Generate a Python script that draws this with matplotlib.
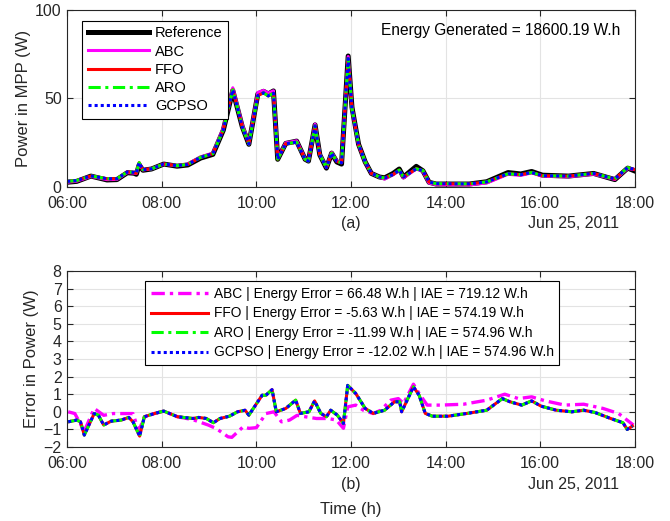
import matplotlib
matplotlib.use('Agg')
import matplotlib.pyplot as plt

plt.rcParams['font.family'] = ['Liberation Sans', 'DejaVu Sans']

# hours after midnight and their labels
xticks = [6, 8, 10, 12, 14, 16, 18]
xticklabels = ['06:00', '08:00', '10:00', '12:00', '14:00', '16:00', '18:00']

# ---- panel (a): power at MPP ----
t_pow = [6.0, 6.2, 6.5, 6.84, 7.05, 7.27, 7.42, 7.46, 7.52, 7.6, 7.78, 8.04, 8.32, 8.55,
         8.82, 9.08, 9.3, 9.5, 9.7, 9.84, 10.03, 10.15, 10.25, 10.36, 10.45, 10.62, 10.85,
         11.03, 11.1, 11.24, 11.34, 11.48, 11.59, 11.7, 11.8, 11.94, 12.02, 12.16, 12.3,
         12.43, 12.6, 12.71, 12.89, 13.02, 13.11, 13.38, 13.52, 13.65, 13.8, 14.5, 14.87,
         15.32, 15.59, 15.82, 16.05, 16.6, 17.13, 17.58, 17.85, 17.99]
p_ref = [2.5, 3.0, 6.0, 3.8, 4.0, 7.9, 7.6, 7.0, 12.3, 9.3, 10.0, 12.8, 11.6, 12.3,
         16.2, 18.3, 32.0, 54.5, 34.0, 24.0, 52.5, 54.0, 52.5, 54.2, 15.5, 24.5, 25.8,
         15.5, 14.5, 35.0, 18.0, 10.5, 19.0, 14.0, 12.8, 74.0, 45.0, 24.0, 14.0,
         7.5, 5.5, 5.0, 7.5, 10.0, 5.5, 11.5, 9.0, 2.5, 1.5, 1.5, 2.8,
         8.0, 7.2, 8.6, 6.5, 6.0, 7.5, 4.0, 10.5, 9.0]
p_abc = [2.5, 3.1, 5.8, 4.0, 4.1, 8.0, 7.7, 7.5, 13.0, 9.5, 10.1, 12.8, 11.8, 12.8,
         16.9, 19.0, 33.2, 56.0, 35.0, 24.9, 53.4, 54.5, 53.0, 54.3, 16.0, 24.8, 26.0,
         15.8, 14.8, 35.4, 18.4, 10.9, 19.4, 14.5, 13.7, 73.7, 44.7, 23.8, 13.9,
         7.5, 5.4, 4.3, 6.8, 9.2, 5.0, 10.0, 8.6, 2.1, 1.1, 1.0, 2.1,
         7.0, 6.4, 7.8, 5.9, 5.6, 7.1, 4.1, 10.3, 9.7]
p_trk = [3.0, 3.5, 6.1, 4.5, 4.5, 8.3, 8.1, 7.6, 13.6, 9.6, 10.1, 12.8, 11.9, 12.6,
         16.6, 18.7, 32.3, 54.8, 34.0, 24.1, 51.6, 53.1, 51.4, 52.9, 15.6, 24.3, 25.2,
         15.5, 14.5, 34.4, 18.1, 10.8, 19.0, 14.3, 13.5, 72.5, 44.0, 23.8, 14.0,
         7.6, 5.5, 4.9, 6.9, 9.4, 5.5, 10.1, 9.1, 2.7, 1.7, 1.6, 2.7,
         7.3, 6.8, 8.0, 6.2, 6.0, 7.5, 4.4, 10.8, 9.8]

# ---- panel (b): error in power ----
t_err = [6.02, 6.2, 6.28, 6.36, 6.57, 6.66, 6.77, 6.93, 7.14, 7.3, 7.39, 7.53, 7.63,
         7.84, 8.04, 8.33, 8.66, 8.78, 8.94, 9.09, 9.23, 9.43, 9.6, 9.76, 9.84, 10.12,
         10.2, 10.33, 10.42, 10.62, 10.83, 10.93, 11.11, 11.23, 11.36, 11.48, 11.57,
         11.71, 11.84, 11.93, 12.1, 12.3, 12.47, 12.59, 12.71, 12.92, 13.03, 13.07,
         13.32, 13.44, 13.57, 13.72, 14.05, 14.46, 14.87, 15.2, 15.36, 15.61, 15.82,
         16.02, 16.34, 16.67, 16.92, 17.16, 17.49, 17.75, 17.84, 17.95]
err_trk = [-0.57, -0.47, -0.57, -1.32, -0.1, -0.2, -0.75, -0.53, -0.47, -0.32, -0.57,
           -1.38, -0.28, -0.1, 0.04, -0.28, -0.38, -0.32, -0.38, -0.62, -0.38, -0.25,
           0.0, 0.09, -0.19, 0.94, 0.94, 1.26, 0.0, 0.19, 0.66, -0.09, 0.0, 0.62, -0.09,
           -0.28, 0.09, -0.19, -0.66, 1.5, 1.04, 0.19, -0.09, 0.0, 0.09, 0.57, 0.57, 0.0,
           1.42, 0.94, -0.09, -0.25, -0.25, -0.09, 0.09, 0.75, 0.57, 0.38, 0.62, 0.32,
           0.09, 0.0, 0.09, -0.04, -0.38, -0.62, -1.0, -0.81]

t_abc = [6.02, 6.16, 6.36, 6.57, 6.77, 6.97, 7.26, 7.39, 7.51, 7.63, 7.84, 8.04, 8.33,
         8.66, 8.98, 9.15, 9.4, 9.48, 9.72, 9.84, 10.0, 10.2, 10.37, 10.53, 10.7, 10.86,
         11.03, 11.27, 11.52, 11.69, 11.84, 11.93, 12.1, 12.26, 12.47, 12.63, 12.84,
         13.0, 13.11, 13.32, 13.44, 13.61, 13.89, 14.38, 14.87, 15.25, 15.54, 15.82,
         16.11, 16.52, 16.92, 17.33, 17.66, 17.97]
err_abc = [0.0, -0.1, -1.1, 0.19, -0.2, -0.1, -0.1, -0.1, -1.1, -0.3, -0.1, 0.04, -0.28,
           -0.45, -0.75, -0.95, -1.42, -1.45, -0.85, -0.94, -0.9, -0.1, 0.0, -0.57, -0.47,
           -0.2, -0.28, -0.38, -0.38, -0.47, -0.94, 0.28, 0.38, 0.09, -0.1, 0.09, 0.66,
           0.75, 0.47, 1.57, 1.04, 0.38, 0.38, 0.43, 0.66, 1.0, 0.75, 0.85, 0.62, 0.38,
           0.43, 0.19, -0.1, -0.75]

energy_text = 'Energy Generated = 18600.19 W.h'
labels_b = ['ABC | Energy Error = 66.48 W.h | IAE = 719.12 W.h',
            'FFO | Energy Error = -5.63 W.h | IAE = 574.19 W.h',
            'ARO | Energy Error = -11.99 W.h | IAE = 574.96 W.h',
            'GCPSO | Energy Error = -12.02 W.h | IAE = 574.96 W.h']

MAG = '#ff00ff'
RED = '#ff0000'
GRN = '#00ff00'
BLU = '#0000ff'
INK = '#262626'
DASHDOT = (0, (4, 1.5, 1, 1.5))

fig = plt.figure(figsize=(6.7, 5.21), dpi=100)
ax1 = fig.add_axes([0.1004, 0.6417, 0.847, 0.339])
ax2 = fig.add_axes([0.1004, 0.142, 0.847, 0.338])


def style_axes(ax):
    ax.set_xlim(6, 18)
    ax.set_xticks(xticks)
    ax.set_xticklabels(xticklabels)
    ax.grid(True, color='#e3e3e3', lw=0.8)
    ax.set_axisbelow(True)
    ax.tick_params(direction='in', top=True, right=True, length=4,
                   labelsize=11.5, colors=INK, width=0.8)
    ax.tick_params(axis='x', pad=6.5)
    ax.tick_params(axis='y', pad=4)
    for s in ax.spines.values():
        s.set_color(INK)
        s.set_linewidth(0.8)


def matlab_legend(ax, x0, fs, spacing):
    leg = ax.legend(loc='upper left', bbox_to_anchor=(x0, 0.94), borderaxespad=0,
                    fontsize=fs, handlelength=4.2, handletextpad=0.4, labelspacing=spacing,
                    fancybox=False, framealpha=1, edgecolor='black', borderpad=0.4)
    leg.get_frame().set_linewidth(0.8)
    return leg


# panel (a)
ax1.plot(t_pow, p_ref, color='black', lw=3.6, label='Reference')
ax1.plot(t_pow, p_abc, color=MAG, lw=2.2, label='ABC')
ax1.plot(t_pow, p_trk, color=RED, lw=2.2, label='FFO')
ax1.plot(t_pow, p_trk, color=GRN, lw=2.2, ls=DASHDOT, label='ARO')
ax1.plot(t_pow, p_trk, color=BLU, lw=2.2, ls=(0, (1, 1)), label='GCPSO')
style_axes(ax1)
ax1.set_ylim(0, 100)
ax1.set_yticks([0, 50, 100])
ax1.set_ylabel('Power in MPP (W)', fontsize=12, color=INK, labelpad=3)
ax1.text(0.974, 0.887, energy_text, transform=ax1.transAxes, ha='right', va='center',
         fontsize=11.2)
matlab_legend(ax1, 0.026, 10.5, 0.28)
ax1.text(0.5, -0.21, '(a)', transform=ax1.transAxes, ha='center', va='center',
         fontsize=11.5, color=INK)
ax1.text(0.972, -0.21, 'Jun 25, 2011', transform=ax1.transAxes, ha='right', va='center',
         fontsize=11.5, color=INK)

# panel (b)
ax2.plot(t_abc, err_abc, color=MAG, lw=2.4, ls=DASHDOT, label=labels_b[0])
ax2.plot(t_err, err_trk, color=RED, lw=2.2, label=labels_b[1])
ax2.plot(t_err, err_trk, color=GRN, lw=2.2, ls=DASHDOT, label=labels_b[2])
ax2.plot(t_err, err_trk, color=BLU, lw=2.2, ls=(0, (1, 1)), label=labels_b[3])
style_axes(ax2)
ax2.set_ylim(-2, 8)
ax2.set_yticks(range(-2, 9))
ax2.set_ylabel('Error in Power (W)', fontsize=12, color=INK, labelpad=3)
ax2.set_xlabel('Time (h)', fontsize=12, color=INK, labelpad=22)
matlab_legend(ax2, 0.137, 9.9, 0.4)
ax2.text(0.5, -0.215, '(b)', transform=ax2.transAxes, ha='center', va='center',
         fontsize=11.5, color=INK)
ax2.text(0.972, -0.215, 'Jun 25, 2011', transform=ax2.transAxes, ha='right', va='center',
         fontsize=11.5, color=INK)

fig.savefig('out.png', dpi=100)
